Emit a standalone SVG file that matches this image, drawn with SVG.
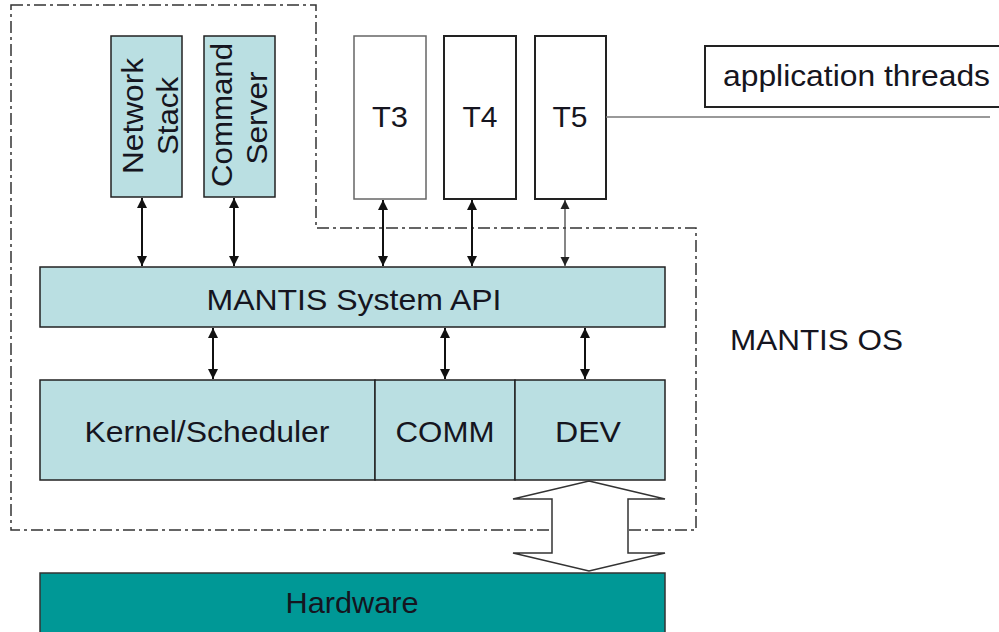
<svg xmlns="http://www.w3.org/2000/svg" width="999" height="632" viewBox="0 0 999 632">
<style>
.lt{fill:#badfe2;stroke:#222;stroke-width:1.5}
.wb{fill:#fff;stroke:#222;stroke-width:2}
.t{font-family:"Liberation Sans",Arial,sans-serif;font-size:30px;fill:#151520;text-anchor:middle}
.s{text-anchor:start}
.c{stroke:#111;stroke-width:2;fill:none;marker-start:url(#ah);marker-end:url(#ah)}
.c2{stroke:#444;stroke-width:1.3;fill:none;marker-start:url(#ah2);marker-end:url(#ah2)}
</style>
<defs>
<marker id="ah" viewBox="0 0 10 10" refX="10" refY="5" markerWidth="5" markerHeight="5" orient="auto-start-reverse" markerUnits="strokeWidth"><path d="M0,0 L10,5 L0,10 z" fill="#111"/></marker>
<marker id="ah2" viewBox="0 0 10 10" refX="10" refY="5" markerWidth="7" markerHeight="7" orient="auto-start-reverse" markerUnits="strokeWidth"><path d="M0,0 L10,5 L0,10 z" fill="#222"/></marker>
</defs>
<rect width="999" height="632" fill="#fff"/>
<path id="os-boundary" d="M11,5 H316 V228 H696 V530 H11 Z" fill="none" stroke="#333" stroke-width="1.5" stroke-dasharray="12 4 3 4"/>
<g id="network-stack"><rect class="lt" x="111" y="36" width="71" height="161"/><text class="t" transform="translate(146,116) rotate(-90)"><tspan x="0" y="-3" textLength="116" lengthAdjust="spacingAndGlyphs">Network</tspan><tspan x="0" y="32" textLength="78" lengthAdjust="spacingAndGlyphs">Stack</tspan></text></g>
<g id="command-server"><rect class="lt" x="204" y="36" width="71" height="161"/><text class="t" transform="translate(239,116) rotate(-90)"><tspan x="1" y="-7" textLength="144" lengthAdjust="spacingAndGlyphs">Command</tspan><tspan x="-2" y="28" textLength="93" lengthAdjust="spacingAndGlyphs">Server</tspan></text></g>
<g id="t3"><rect x="354" y="36" width="72" height="163" fill="#fff" stroke="#666" stroke-width="1.5"/><text class="t" x="390" y="127" textLength="36" lengthAdjust="spacingAndGlyphs">T3</text></g>
<g id="t4"><rect class="wb" x="444" y="36" width="72" height="163"/><text class="t" x="480" y="127" textLength="35" lengthAdjust="spacingAndGlyphs">T4</text></g>
<g id="t5"><rect class="wb" x="535" y="36" width="71" height="163"/><text class="t" x="570" y="127" textLength="35" lengthAdjust="spacingAndGlyphs">T5</text></g>
<g id="app-threads"><rect x="705" y="46" width="300" height="61" fill="#fff" stroke="#222" stroke-width="2"/><text class="t s" x="723" y="86" textLength="267" lengthAdjust="spacingAndGlyphs">application threads</text></g>
<g id="api"><rect class="lt" x="40" y="267" width="625" height="60"/><text class="t" x="354" y="310" textLength="295" lengthAdjust="spacingAndGlyphs">MANTIS System API</text></g>
<g id="kernel"><rect class="lt" x="40" y="380" width="335" height="100"/><text class="t" x="207" y="442" textLength="245" lengthAdjust="spacingAndGlyphs">Kernel/Scheduler</text></g>
<g id="comm"><rect class="lt" x="375" y="380" width="140" height="100"/><text class="t" x="445" y="442" textLength="99" lengthAdjust="spacingAndGlyphs">COMM</text></g>
<g id="dev"><rect class="lt" x="515" y="380" width="150" height="100"/><text class="t" x="588" y="442" textLength="66" lengthAdjust="spacingAndGlyphs">DEV</text></g>
<g id="hardware"><rect x="40" y="573" width="625" height="62" fill="#009896" stroke="#333" stroke-width="1.5"/><text class="t" x="352" y="613" textLength="133" lengthAdjust="spacingAndGlyphs">Hardware</text></g>
<g id="mantis-os"><text class="t s" x="730" y="350" textLength="173" lengthAdjust="spacingAndGlyphs">MANTIS OS</text></g>
<g id="connectors">
<line class="c" x1="142" y1="198" x2="142" y2="266"/>
<line class="c" x1="234" y1="198" x2="234" y2="266"/>
<line class="c" x1="383" y1="200" x2="383" y2="266"/>
<line class="c" x1="472" y1="200" x2="472" y2="266"/>
<line class="c2" x1="565" y1="200" x2="565" y2="266"/>
<line class="c" x1="213" y1="328" x2="213" y2="379"/>
<line class="c" x1="445" y1="328" x2="445" y2="379"/>
<line class="c" x1="585" y1="328" x2="585" y2="379"/>
<line x1="606" y1="117" x2="990" y2="117" stroke="#777" stroke-width="1.5"/>
<path d="M589,481 L665,499 H628 V553 H665 L589,571 L513,553 H552 V499 H513 Z" fill="#fff" stroke="#333" stroke-width="1.5"/>
</g>
</svg>
